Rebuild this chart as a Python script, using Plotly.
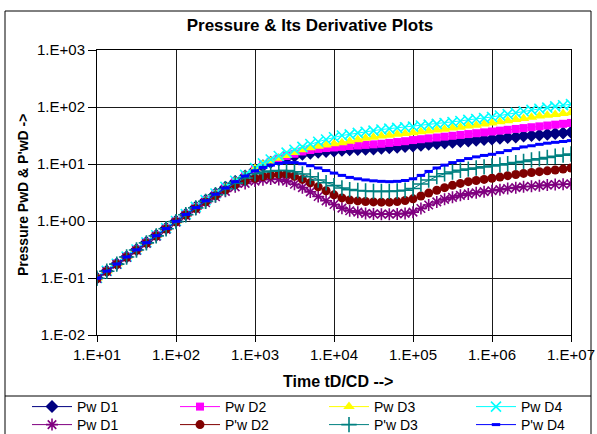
import plotly.graph_objects as go

# ---- data ----
T = [10, 13.3, 17.8, 23.7, 31.6, 42.2, 56.2, 75.0, 100, 133, 178, 237, 316, 422, 562, 750,
     1000, 1260, 1580, 2000, 2510, 3160, 3980, 5010, 6310, 7940,
     1.0e4, 1.26e4, 1.58e4, 2.0e4, 2.51e4, 3.16e4, 3.98e4, 5.01e4, 6.31e4, 7.94e4,
     1.0e5, 1.26e5, 1.58e5, 2.0e5, 2.51e5, 3.16e5, 3.98e5, 5.01e5, 6.31e5, 7.94e5,
     1.0e6, 1.26e6, 1.58e6, 2.0e6, 2.51e6, 3.16e6, 3.98e6, 5.01e6, 6.31e6, 7.94e6,
     1.0e7]

PW_D1 = [0.100, 0.133, 0.178, 0.237, 0.316, 0.422, 0.562, 0.750, 1.00, 1.32, 1.76, 2.31, 3.00, 3.90, 4.95, 6.17,
         7.94, 9.33, 10.72, 11.75, 12.74, 13.80, 14.79, 15.49, 16.03, 16.60,
         16.98, 17.38, 17.78, 17.99, 18.20, 18.41, 18.84, 19.28, 19.72, 20.18,
         20.65, 21.38, 22.13, 22.91, 23.44, 23.99, 24.83, 25.41, 26.00, 26.92,
         27.54, 28.18, 29.17, 29.85, 30.90, 31.62, 32.36, 33.11, 34.28, 35.08,
         35.89]
PW_D2 = [0.100, 0.133, 0.178, 0.237, 0.316, 0.422, 0.562, 0.750, 1.00, 1.32, 1.76, 2.32, 3.01, 3.92, 4.99, 6.26,
         8.13, 9.55, 10.96, 12.30, 13.80, 15.14, 16.60, 17.58, 18.41, 19.05,
         19.50, 19.95, 20.65, 21.13, 21.63, 22.13, 22.65, 23.44, 24.27, 25.12,
         26.30, 27.23, 28.18, 29.17, 30.20, 31.26, 32.36, 33.50, 34.67, 35.89,
         37.15, 38.46, 39.81, 41.21, 42.66, 44.16, 45.71, 47.32, 48.98, 50.70,
         52.48]
PW_D3 = [0.100, 0.133, 0.178, 0.237, 0.316, 0.422, 0.562, 0.750, 1.00, 1.32, 1.76, 2.32, 3.02, 3.94, 5.03, 6.35,
         8.32, 9.77, 11.22, 12.59, 14.13, 15.85, 17.78, 19.28, 20.42, 21.63,
         22.65, 23.71, 25.12, 26.61, 28.18, 29.51, 30.90, 31.99, 33.11, 34.28,
         35.48, 36.73, 38.02, 39.36, 40.74, 42.66, 44.16, 46.24, 47.86, 50.12,
         52.48, 54.95, 57.54, 60.26, 63.10, 66.07, 69.18, 71.61, 74.13, 76.74,
         79.43]
PW_D4 = [0.100, 0.133, 0.178, 0.237, 0.316, 0.422, 0.562, 0.750, 1.00, 1.32, 1.77, 2.33, 3.04, 3.98, 5.08, 6.46,
         8.51, 10.23, 12.02, 13.80, 15.85, 17.78, 19.95, 22.39, 24.55, 26.92,
         29.51, 31.62, 33.11, 35.08, 36.73, 38.46, 40.27, 41.69, 43.15, 44.16,
         45.19, 47.32, 48.98, 50.70, 52.48, 54.33, 56.89, 59.57, 61.66, 63.83,
         66.83, 70.79, 74.99, 79.43, 84.14, 89.13, 93.33, 97.72, 102.3, 107.2,
         112.2]
DPW_D1 = [0.098, 0.130, 0.173, 0.229, 0.304, 0.404, 0.536, 0.712, 0.955, 1.245, 1.622, 2.089, 2.66, 3.31, 3.98, 4.57,
          5.01, 5.31, 5.43, 5.37, 5.01, 4.42, 3.85, 3.24, 2.69, 2.26,
          1.95, 1.68, 1.51, 1.43, 1.36, 1.33, 1.32, 1.32, 1.33, 1.36,
          1.43, 1.66, 1.91, 2.16, 2.40, 2.60, 2.82, 2.99, 3.13, 3.27,
          3.39, 3.55, 3.72, 3.85, 3.98, 4.07, 4.17, 4.27, 4.37, 4.42,
          4.47]
DPW_D2 = [0.098, 0.130, 0.174, 0.231, 0.307, 0.409, 0.543, 0.722, 0.966, 1.274, 1.660, 2.163, 2.786, 3.51, 4.37, 5.07,
          5.62, 6.03, 6.38, 6.61, 6.61, 6.10, 5.37, 4.68, 3.98, 3.39,
          2.88, 2.54, 2.34, 2.25, 2.20, 2.16, 2.14, 2.14, 2.19, 2.29,
          2.45, 2.75, 3.09, 3.47, 3.85, 4.22, 4.57, 4.90, 5.13, 5.37,
          5.62, 5.89, 6.24, 6.53, 6.84, 7.08, 7.33, 7.59, 7.85, 8.13,
          8.51]
DPW_D3 = [0.099, 0.131, 0.175, 0.233, 0.310, 0.413, 0.548, 0.730, 0.977, 1.288, 1.698, 2.213, 2.884, 3.67, 4.62, 5.69,
          6.76, 7.24, 7.50, 7.67, 7.67, 7.33, 6.68, 5.96, 5.25, 4.68,
          4.17, 3.80, 3.55, 3.43, 3.35, 3.31, 3.31, 3.31, 3.35, 3.47,
          3.72, 4.47, 5.25, 6.03, 6.76, 7.24, 7.76, 8.13, 8.51, 8.91,
          9.23, 9.66, 10.12, 10.59, 11.09, 11.75, 12.30, 13.03, 13.65, 14.29,
          14.96]
DPW_D4 = [0.099, 0.132, 0.176, 0.234, 0.312, 0.416, 0.553, 0.737, 0.989, 1.303, 1.718, 2.265, 2.951, 3.80, 4.90, 6.17,
          7.59, 8.71, 9.55, 10.23, 10.59, 10.59, 10.12, 9.33, 8.51, 7.67,
          6.92, 6.31, 5.82, 5.50, 5.25, 5.07, 4.96, 4.90, 4.96, 5.13,
          5.50, 6.31, 7.41, 8.51, 9.55, 10.59, 11.48, 12.45, 13.34, 14.13,
          14.79, 15.85, 17.18, 18.62, 19.95, 20.89, 22.13, 23.17, 23.99, 24.83,
          25.70]

SERIES = [PW_D1, PW_D2, PW_D3, PW_D4, DPW_D1, DPW_D2, DPW_D3, DPW_D4]
NAMES = ["Pw D1", "Pw D2", "Pw D3", "Pw D4", "Pw D1", "P'w D2", "P'w D3", "P'w D4"]

X_TICKS = [10, 100, 1e3, 1e4, 1e5, 1e6, 1e7]
X_TICKTEXT = ["1.E+01", "1.E+02", "1.E+03", "1.E+04", "1.E+05", "1.E+06", "1.E+07"]
Y_TICKS = [0.01, 0.1, 1, 10, 100, 1000]
Y_TICKTEXT = ["1.E-02", "1.E-01", "1.E+00", "1.E+01", "1.E+02", "1.E+03"]

# ---- layout geometry ----
W, H = 597, 434
ML, MR, MT, MB = 97, 26, 50, 99
PWID = W - ML - MR
PHGT = H - MT - MB


def px(x):
    return (x - ML) / PWID


def py(y):
    return (H - MB - y) / PHGT


FONT = "Liberation Sans, Arial, sans-serif"

STYLES = [
    dict(color="#000080", symbol="diamond", size=10, lw=0),
    dict(color="#FF00FF", symbol="square", size=8, lw=0),
    dict(color="#FFFF00", symbol="triangle-up", size=10, lw=0),
    dict(color="#00FFFF", symbol="x-thin-open", size=10, lw=1.6),
    dict(color="#800080", symbol="asterisk-open", size=10, lw=1.6),
    dict(color="#800000", symbol="circle", size=9, lw=0),
    dict(color="#008080", symbol="cross-thin-open", size=11, lw=1.6),
    dict(color="#0000FF", symbol="line-ew-open", size=6, lw=3),
]

LEG_COLS = [32, 180, 329, 476]
LEG_ROWS = [407, 425]

fig = go.Figure()
legends = {}
for k, (vals, name, st) in enumerate(zip(SERIES, NAMES, STYLES)):
    lid = "legend" if k == 0 else "legend%d" % (k + 1)
    fig.add_trace(go.Scatter(
        x=T, y=vals, name=name, mode="lines+markers",
        line=dict(color=st["color"], width=1),
        marker=dict(symbol=st["symbol"], size=st["size"], color=st["color"],
                    line=dict(color=st["color"], width=st["lw"])),
        legend=lid,
    ))
    r, c = divmod(k, 4)
    legends[lid] = dict(
        x=px(LEG_COLS[c] - 5), y=py(LEG_ROWS[r]), xanchor="left", yanchor="middle",
        orientation="v", bgcolor="rgba(0,0,0,0)", borderwidth=0, itemwidth=40,
        font=dict(family=FONT, size=14, color="black"),
    )

axis_common = dict(
    type="log", showgrid=True, gridcolor="#1a1a1a", gridwidth=1,
    showline=True, linecolor="black", linewidth=1, mirror=True,
    ticks="outside", tickcolor="black",
    tickfont=dict(family=FONT, size=15, color="black"),
    zeroline=False,
)

fig.update_layout(
    width=W, height=H,
    margin=dict(l=ML, r=MR, t=MT, b=MB, pad=0, autoexpand=False),
    paper_bgcolor="white", plot_bgcolor="white",
    showlegend=True,
    title=dict(text="Pressure & Its Derivative Plots", x=310 / W, y=1 - 25 / H,
               xref="container", yref="container", xanchor="center", yanchor="middle",
               font=dict(family=FONT, size=17, color="black", weight="bold")),
    xaxis=dict(axis_common, range=[1, 7], tickvals=X_TICKS, ticktext=X_TICKTEXT, ticklen=6),
    yaxis=dict(axis_common, range=[-2, 3], tickvals=Y_TICKS, ticktext=Y_TICKTEXT, ticklen=8),
    annotations=[
        dict(text="Pressure PwD & P'wD ->", textangle=-90, xref="paper", yref="paper",
             x=px(23), y=py(195), xanchor="center", yanchor="middle", showarrow=False,
             font=dict(family=FONT, size=14, color="black", weight="bold")),
        dict(text="Time tD/CD -->", xref="paper", yref="paper",
             x=px(338), y=py(381), xanchor="center", yanchor="middle", showarrow=False,
             font=dict(family=FONT, size=16, color="black", weight="bold")),
    ],
    shapes=[
        dict(type="rect", xref="paper", yref="paper", x0=px(5), x1=px(591), y0=py(450), y1=py(11),
             line=dict(color="black", width=1), fillcolor="rgba(0,0,0,0)", layer="below"),
        dict(type="line", xref="paper", yref="paper", x0=px(5), x1=px(591), y0=py(396), y1=py(396),
             line=dict(color="black", width=1)),
    ],
    **legends,
)

fig.write_html("out.html")
